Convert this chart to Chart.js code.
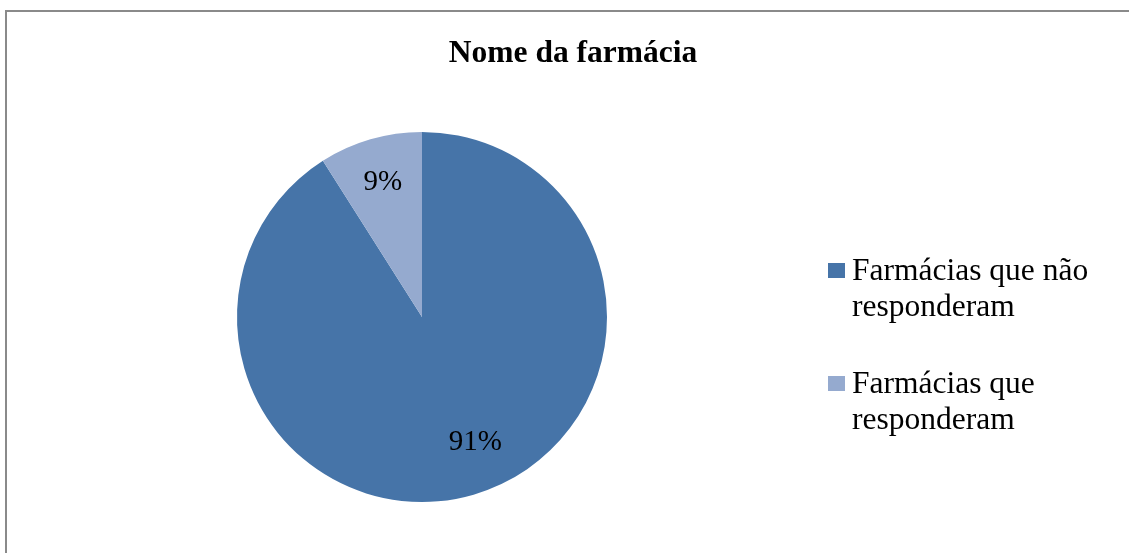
<!DOCTYPE html>
<html>
<head>
<meta charset="utf-8">
<script src="https://cdn.jsdelivr.net/npm/chart.js@4.4.1/dist/chart.umd.min.js"></script>
<style>
  html, body { margin: 0; padding: 0; background: #fff; overflow: hidden; }
  #frame { position: absolute; left: 5px; top: 10px; width: 1140px; height: 570px; border: 2px solid #8a8a8a; }
  canvas { display: block; }
</style>
</head>
<body>
<div id="frame"><canvas id="pieChart" width="1140" height="570"></canvas></div>
<script>
const chartTitle = "Nome da farmácia";
const labels = [["Farmácias que não", "responderam"], ["Farmácias que", "responderam"]];
const values = [91, 9];
const colors = ["#4674A8", "#95AACF"];

const serif = "'Liberation Serif', 'Times New Roman', serif";

// title centred on the whole frame, not on the pie area
const frameTitle = {
  id: "frameTitle",
  afterDraw(chart) {
    const ctx = chart.ctx;
    ctx.save();
    ctx.font = "bold 31.5px " + serif;
    ctx.fillStyle = "#000";
    ctx.textAlign = "center";
    ctx.textBaseline = "alphabetic";
    ctx.fillText(chartTitle, 566, 50);
    ctx.restore();
  }
};

// percentage inside each slice (Excel "best fit" puts the big one a bit off its middle)
const labelNudge = [[14, -10], [0, 0]];
const sliceLabels = {
  id: "sliceLabels",
  afterDatasetsDraw(chart) {
    const ctx = chart.ctx;
    const meta = chart.getDatasetMeta(0);
    const total = values.reduce((a, b) => a + b, 0);
    ctx.save();
    ctx.font = "29px " + serif;
    ctx.fillStyle = "#000";
    ctx.textAlign = "center";
    ctx.textBaseline = "middle";
    meta.data.forEach((arc, i) => {
      const p = arc.getProps(["x", "y", "startAngle", "endAngle", "outerRadius"], true);
      const mid = (p.startAngle + p.endAngle) / 2;
      const r = p.outerRadius * 0.76;
      const pct = Math.round(values[i] / total * 100) + "%";
      ctx.fillText(pct, p.x + Math.cos(mid) * r + labelNudge[i][0], p.y + Math.sin(mid) * r + labelNudge[i][1]);
    });
    ctx.restore();
  }
};

// legend on the right, with wrapped labels
const sideLegend = {
  id: "sideLegend",
  afterDraw(chart) {
    const ctx = chart.ctx;
    const left = 821, top = 260, lineH = 36, gap = 113;
    ctx.save();
    ctx.font = "31.5px " + serif;
    ctx.textBaseline = "middle";
    ctx.textAlign = "left";
    chart.data.labels.forEach((lab, i) => {
      const y = top + i * gap;
      ctx.fillStyle = chart.data.datasets[0].backgroundColor[i];
      ctx.fillRect(left, y - 9, 17, 15);
      ctx.fillStyle = "#000";
      lab.forEach((line, j) => ctx.fillText(line, left + 24, y + j * lineH));
    });
    ctx.restore();
  }
};

new Chart(document.getElementById("pieChart"), {
  type: "pie",
  data: {
    labels: labels,
    datasets: [{
      data: values,
      backgroundColor: colors,
      borderWidth: 0
    }]
  },
  options: {
    responsive: false,
    animation: false,
    layout: { padding: { left: 230, right: 540, top: 120, bottom: 80 } },
    plugins: {
      legend: { display: false },
      tooltip: { enabled: false },
      title: { display: false }
    }
  },
  plugins: [sliceLabels, sideLegend, frameTitle]
});
</script>
</body>
</html>
